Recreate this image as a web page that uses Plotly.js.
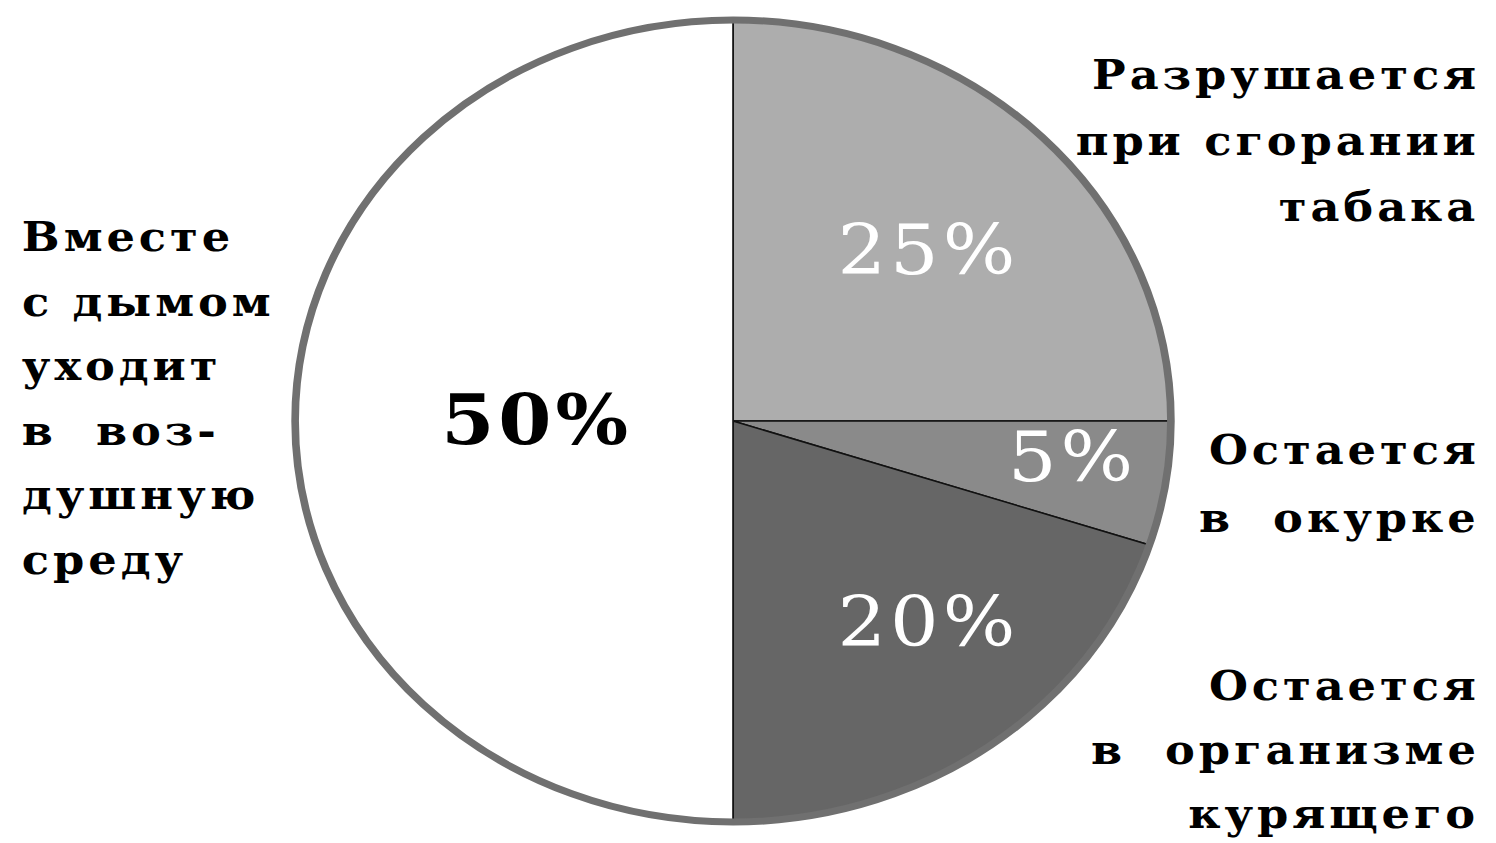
<!DOCTYPE html>
<html>
<head>
<meta charset="utf-8">
<script src="https://cdn.plot.ly/plotly-3.0.1.min.js"></script>
<style>
  html, body { margin: 0; padding: 0; background: #fff; overflow: hidden; }
  #chart { width: 1370px; height: 843px; transform: scaleX(1.092); transform-origin: 0 0; }
  .annotation-text { letter-spacing: 3.6px; }
</style>
</head>
<body>
<div id="chart"></div>
<script>
// Data
const categories = ["Разрушается при сгорании табака", "Остается в окурке", "Остается в организме курящего", "Вместе с дымом уходит в воздушную среду"];
const values = [25, 5, 20, 50];
const sliceColors = ["#adadad", "#8a8a8a", "#666666", "#ffffff"];
const labelLines = [
  ["Разрушается", "при сгорании", "табака"],
  ["Остается", "в\u00a0\u00a0окурке"],
  ["Остается", "в\u00a0\u00a0организме", "курящего"],
  ["Вместе", "с дымом", "уходит", "в\u00a0\u00a0воз-", "душную", "среду"]
];

// Layout helpers (target pixel positions in the 1496x843 picture)
const PW = 1496, PH = 843;
const px = X => X / PW;
const py = Y => 1 - Y / PH;

const cx = 733, cy = 421, r = 401, preW = 1370;
const dom = {
  x: [px(cx) - r / preW, px(cx) + r / preW],
  y: [py(cy) - r / PH, py(cy) + r / PH]
};

const labelFont = { family: "DejaVu Serif", size: 41, color: "#000", weight: "bold" };

// label block positions: [x, anchor, firstLineY, lineGap]
const labelPos = [
  [1482, "right", 75, 66],
  [1482, "right", 450, 68],
  [1482, "right", 686, 64],
  [20, "left", 237, 64.6]
];
const pctPos = [[928, 250], [1072, 457], [928, 622], [537, 420]];
const pctColor = ["#ffffff", "#ffffff", "#ffffff", "#000000"];
const pctWeight = ["normal", "normal", "normal", "bold"];

const annotations = [];
labelLines.forEach((lines, i) => {
  const [x, anchor, y0, gap] = labelPos[i];
  lines.forEach((t, j) => {
    annotations.push({
      text: t, xref: "paper", yref: "paper",
      x: px(x), y: py(y0 + j * gap),
      xanchor: anchor, yanchor: "middle", showarrow: false,
      font: labelFont
    });
  });
});
values.forEach((v, i) => {
  annotations.push({
    text: v + "%", xref: "paper", yref: "paper",
    x: px(pctPos[i][0]), y: py(pctPos[i][1]),
    xanchor: "center", yanchor: "middle", showarrow: false,
    font: { family: "DejaVu Serif", size: 70, color: pctColor[i], weight: pctWeight[i] }
  });
});

const trace = {
  type: "pie",
  labels: categories,
  values: values,
  sort: false,
  direction: "clockwise",
  rotation: 0,
  marker: { colors: sliceColors, line: { color: "#111111", width: 1.5 } },
  textinfo: "none",
  hoverinfo: "skip",
  showlegend: false,
  domain: dom
};

const layout = {
  width: preW, height: PH,
  margin: { l: 0, r: 0, t: 0, b: 0 },
  paper_bgcolor: "#ffffff",
  plot_bgcolor: "#ffffff",
  showlegend: false,
  annotations: annotations,
  shapes: [{
    type: "circle", xref: "paper", yref: "paper",
    x0: dom.x[0], x1: dom.x[1], y0: dom.y[0], y1: dom.y[1],
    line: { color: "#707070", width: 7 }
  }]
};

Plotly.newPlot("chart", [trace], layout, { displayModeBar: false, staticPlot: true });
</script>
</body>
</html>
